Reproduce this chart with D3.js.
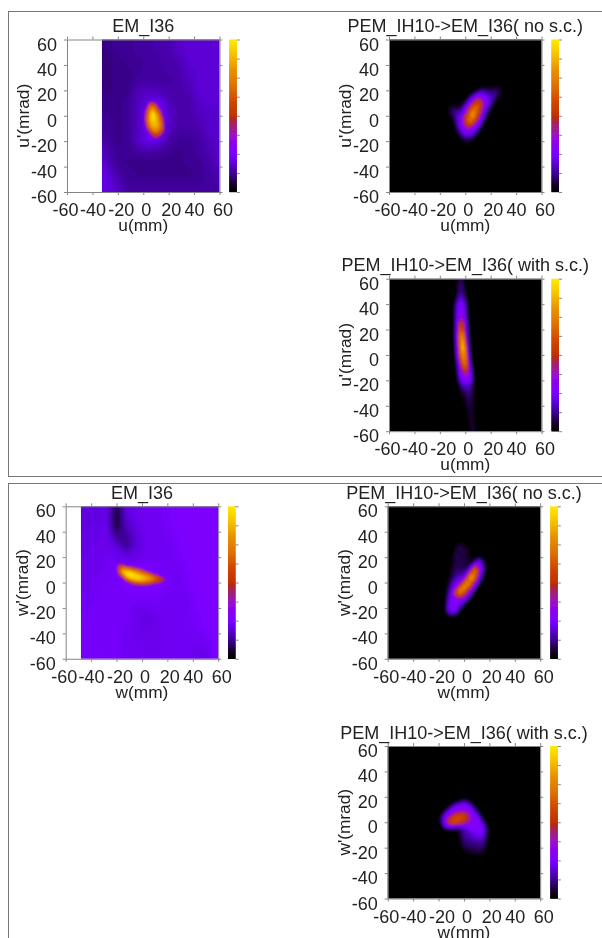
<!DOCTYPE html>
<html><head><meta charset="utf-8">
<script src="https://cdn.jsdelivr.net/npm/d3@7/dist/d3.min.js"></script>
<style>html,body{margin:0;padding:0;background:#fff;overflow:hidden}svg{display:block}</style>
</head><body><svg id="c" width="602" height="938"></svg>
<script>
const ticks=[-60,-40,-20,0,20,40,60];
const barStops=[0,6,12.5,20,25,32,37,43,48,50,60,70,80,90,100];
const barColors=["#000000","#1a0030","#3c0090","#6000e0","#7a00ff","#8c00f0","#9a10d0","#a02080","#b02830","#c03000","#d04800","#e07000","#e89000","#f5c000","#ffea00"];

const emUBack=[
[12,12,13,13,14,14,15,15,18,19,19,19,19],
[11,12,13,13,14,14,15,15,18,19,19,19,19],
[11,11,12,13,13,14,14,15,16,19,19,19,19],
[11,11,12,12,13,14,14,15,15,18,19,19,19],
[11,11,12,12,14,14,14,14,15,17,19,19,19],
[12,11,12,12,16,17,16,15,15,16,19,19,19],
[12,12,12,13,17,20,21,16,15,15,18,19,19],
[13,12,12,13,17,24,26,18,15,15,17,18,18],
[14,13,12,13,17,24,26,18,15,15,16,18,18],
[14,13,12,13,17,23,24,17,14,14,15,18,18],
[16,14,12,13,18,21,20,15,13,13,14,17,18],
[19,15,13,13,14,15,14,13,12,13,14,16,18],
[20,16,13,12,12,12,12,12,12,13,13,15,18],
[20,19,14,13,12,12,12,12,12,12,13,14,16],
[20,20,16,13,13,13,13,13,13,13,13,14,15],
[20,20,18,14,14,14,14,14,14,14,14,14,14]];
const emUCore=[
[0,0,0,0,0,0,0,0],
[0,0,48,56,40,0,0,0],
[0,20,66,70,60,20,0,0],
[0,40,72,84,70,50,0,0],
[0,50,78,96,80,64,25,0],
[0,56,82,100,88,70,42,0],
[0,58,82,96,90,74,52,0],
[0,52,80,90,90,78,58,0],
[0,40,74,86,88,78,60,0],
[0,25,60,78,80,74,58,20],
[0,0,42,62,68,62,48,0],
[0,0,20,46,54,46,20,0],
[0,0,0,20,34,20,0,0],
[0,0,0,0,0,0,0,0]];
const noScU=[
[0,0,0,0,0,0,0,0,0,0,0,0,0,0,0,0],
[0,0,0,0,0,0,0,0,0,6,8,7,6,8,6,0],
[0,0,0,0,0,0,0,4,14,20,18,14,12,12,6,0],
[0,0,0,0,0,0,6,20,28,30,25,20,16,10,2,0],
[0,0,0,0,0,4,18,34,50,50,30,24,14,4,0,0],
[0,0,2,0,4,14,28,52,62,56,32,22,8,0,0,0],
[0,6,8,6,10,24,46,66,68,52,28,14,2,0,0,0],
[0,6,12,14,18,30,58,78,66,48,22,8,0,0,0,0],
[0,2,10,18,24,46,66,80,58,36,16,2,0,0,0,0],
[0,0,6,18,26,52,70,68,50,28,8,0,0,0,0,0],
[0,0,2,16,26,50,62,54,34,18,2,0,0,0,0,0],
[0,0,0,12,26,36,46,34,24,10,0,0,0,0,0,0],
[0,0,0,6,20,28,28,24,14,2,0,0,0,0,0,0],
[0,0,0,2,12,20,20,14,6,0,0,0,0,0,0,0],
[0,0,0,0,4,10,10,6,0,0,0,0,0,0,0,0],
[0,0,0,0,0,4,4,0,0,0,0,0,0,0,0,0],
[0,0,0,0,0,0,0,0,0,0,0,0,0,0,0,0]];
const withScU=[
[0,0,4,8,6,0,0,0,0,0,0],
[0,0,5,10,8,2,0,0,0,0,0],
[0,0,6,12,10,3,0,0,0,0,0],
[0,2,10,18,16,8,0,0,0,0,0],
[0,8,20,26,26,16,2,0,0,0,0],
[0,10,22,28,28,18,2,0,0,0,0],
[0,10,24,32,32,22,4,0,0,0,0],
[0,10,30,52,50,28,8,0,0,0,0],
[0,10,30,62,58,32,10,0,0,0,0],
[0,10,32,70,76,42,12,0,0,0,0],
[0,8,32,68,86,54,18,0,0,0,0],
[0,6,30,64,90,66,24,4,0,0,0],
[0,4,26,58,78,74,30,6,0,0,0],
[0,2,18,44,68,72,40,10,0,0,0],
[0,0,12,30,52,64,46,18,4,0,0],
[0,0,8,26,34,40,38,24,8,0,0],
[0,0,4,18,26,28,28,24,10,0,0],
[0,0,0,6,14,14,18,12,6,0,0],
[0,0,0,2,6,8,12,10,6,0,0],
[0,0,0,0,2,4,8,8,5,0,0],
[0,0,0,0,0,2,5,8,4,0,0],
[0,0,0,0,0,0,3,6,4,0,0],
[0,0,0,0,0,0,2,5,5,0,0],
[0,0,0,0,0,0,0,4,6,2,0],
[0,0,0,0,0,0,0,3,6,2,0]];
const emWBack=[
[20,20,20,21,8,20,22,23,23,24,26,26,26,26,26],
[20,20,20,21,6,19,22,23,23,24,26,26,26,26,26],
[20,20,21,22,7,17,21,23,23,24,25,26,26,26,26],
[20,21,21,22,13,13,20,23,23,23,25,26,26,26,26],
[21,21,22,22,20,14,20,23,23,23,24,26,26,26,26],
[21,22,22,23,22,21,21,23,23,23,24,25,26,26,26],
[22,22,22,23,24,24,25,25,24,23,23,25,26,26,26],
[22,22,23,23,24,25,25,26,25,24,23,24,26,26,26],
[22,22,23,24,24,25,25,25,25,24,23,24,26,26,26],
[23,23,23,24,24,24,24,24,24,23,23,23,25,26,26],
[23,23,24,24,24,24,22,22,23,23,23,23,25,26,26],
[23,24,24,24,24,24,22,21,22,23,23,23,24,26,26],
[24,24,24,24,24,23,22,21,22,23,23,23,24,25,26],
[24,24,24,24,24,23,22,22,22,23,23,23,23,24,26],
[24,24,24,24,24,23,23,22,22,23,23,23,22,23,26],
[24,24,24,24,24,23,23,23,23,23,23,23,22,22,26]];
const emWCore=[
[0,0,0,0,0,0,0,0,0,0,0,0,0,0,0,0],
[0,0,45,40,0,0,0,0,0,0,0,0,0,0,0,0],
[0,0,58,66,58,50,40,0,0,0,0,0,0,0,0,0],
[0,0,60,82,80,74,66,60,48,0,0,0,0,0,0,0],
[0,0,55,85,95,92,85,76,68,60,42,0,0,0,0,0],
[0,0,40,72,95,100,96,90,82,74,66,52,38,0,0,0],
[0,0,0,52,78,92,95,95,92,86,80,70,60,50,30,0],
[0,0,0,0,55,72,82,86,86,82,76,68,60,52,40,0],
[0,0,0,0,35,48,58,62,65,65,60,52,45,38,0,0],
[0,0,0,0,0,0,35,40,42,40,35,0,0,0,0,0],
[0,0,0,0,0,0,0,0,0,0,0,0,0,0,0,0]];
const noScW=[
[0,0,0,0,0,0,0,0,0,0,0,0,0],
[0,0,0,0,2,4,3,0,0,0,0,0,0],
[0,0,0,0,5,9,6,1,0,0,0,0,0],
[0,0,0,0,7,6,9,3,0,0,0,0,0],
[0,0,0,2,8,8,6,5,1,0,0,0,0],
[0,0,0,3,8,7,8,5,3,6,16,6,0],
[0,0,0,3,8,9,7,6,8,24,28,12,0],
[0,0,0,4,9,8,8,9,28,54,36,16,0],
[0,0,0,6,10,10,12,20,52,70,38,14,0],
[0,0,0,8,12,14,18,40,76,66,30,8,0],
[0,0,2,10,18,22,34,66,82,54,22,2,0],
[0,0,4,16,22,34,60,76,64,36,10,0,0],
[0,0,6,20,30,56,78,70,46,20,2,0,0],
[0,0,10,24,54,76,70,50,28,6,0,0,0],
[0,0,12,28,58,66,54,34,12,0,0,0,0],
[0,0,16,28,36,40,32,16,4,0,0,0,0],
[0,0,20,28,30,28,18,6,0,0,0,0,0],
[0,0,22,28,26,18,6,0,0,0,0,0,0],
[0,0,22,28,22,10,0,0,0,0,0,0,0],
[0,0,14,20,12,0,0,0,0,0,0,0,0],
[0,0,0,0,0,0,0,0,0,0,0,0,0]];
const withScW=[
[0,0,0,0,0,0,0,0,0,0,0,0,0,0,0],
[0,0,0,0,0,0,2,4,2,0,0,0,0,0,0],
[0,0,0,0,2,10,16,20,16,6,0,0,0,0,0],
[0,0,0,6,18,26,28,30,28,18,6,0,0,0,0],
[0,0,6,20,28,32,34,34,32,26,14,2,0,0,0],
[0,4,20,28,42,52,56,54,44,30,26,12,0,0,0],
[0,8,26,46,58,62,60,56,48,32,28,22,4,0,0],
[0,8,26,50,60,58,52,48,38,32,30,26,14,0,0],
[0,2,18,30,30,26,24,24,26,28,28,28,24,4,0],
[0,0,2,4,4,4,8,16,20,24,26,26,24,8,0],
[0,0,0,0,0,0,6,14,16,20,24,24,22,6,0],
[0,0,0,0,0,0,4,12,14,16,18,20,18,6,0],
[0,0,0,0,0,0,3,10,12,12,14,14,14,4,0],
[0,0,0,0,0,0,2,8,10,10,10,12,10,3,0],
[0,0,0,0,0,0,0,4,7,8,8,9,8,2,0],
[0,0,0,0,0,0,0,0,3,4,4,5,4,0,0],
[0,0,0,0,0,0,0,0,0,0,0,0,0,0,0]];

const panels=[
 {title:"EM_I36",xl:"u(mm)",yl:"u'(mrad)",left:67,top:39.5,barX:229.3,xMin:-32.5,layers:[
   {rows:emUBack,x0:-36,y0:60,dx:8,dy:8,t0:.5},{rows:emUCore,x0:0,y0:12,dx:2.5,dy:2.5,t0:30}]},
 {title:"PEM_IH10->EM_I36( no s.c.)",xl:"u(mm)",yl:"u'(mrad)",left:389,top:39.5,barX:551.5,xMin:-60,layers:[
   {rows:noScU,x0:-15,y0:24,dx:3,dy:3,t0:.5}]},
 {title:"PEM_IH10->EM_I36( with s.c.)",xl:"u(mm)",yl:"u'(mrad)",left:389,top:278.7,barX:551.5,xMin:-60,layers:[
   {rows:withScU,x0:-10,y0:60,dx:2,dy:5,t0:.5}]},
 {title:"EM_I36",xl:"w(mm)",yl:"w'(mrad)",left:65.7,top:506.3,barX:228,xMin:-48,layers:[
   {rows:emWBack,x0:-52,y0:60,dx:8,dy:8,t0:.5},{rows:emWCore,x0:-24,y0:16,dx:3,dy:2,t0:30}]},
 {title:"PEM_IH10->EM_I36( no s.c.)",xl:"w(mm)",yl:"w'(mrad)",left:387.7,top:506.3,barX:550.3,xMin:-60,layers:[
   {rows:noScW,x0:-18,y0:33,dx:3,dy:3,t0:.5}]},
 {title:"PEM_IH10->EM_I36( with s.c.)",xl:"w(mm)",yl:"w'(mrad)",left:387.7,top:746,barX:550.3,xMin:-60,layers:[
   {rows:withScW,x0:-21,y0:21,dx:3,dy:3,t0:.5}]}
];
const xNudge=[-2,0,3,2.5,2,0,3];
const W=152.5,H=152.5,barW=7.5;
const FONT='"Liberation Sans",Arial,sans-serif',GREY="#858585",INK="#222";
const color=d3.scaleLinear().domain(barStops).range(barColors).clamp(true);

const svg=d3.select("#c");
const defs=svg.append("defs");
const full=(id,s)=>defs.append("filter").attr("id",id).attr("filterUnits","userSpaceOnUse")
  .attr("x",0).attr("y",0).attr("width",602).attr("height",938)
  .append("feGaussianBlur").attr("stdDeviation",s);
full("soft",.45);full("heat",.8);
const root=svg.append("g").attr("filter","url(#soft)");
root.append("rect").attr("width",602).attr("height",938).attr("fill","#fff");

[[8.5,11.5,610,465],[8.5,483.5,610,470]].forEach(b=>root.append("rect")
  .attr("x",b[0]).attr("y",b[1]).attr("width",b[2]).attr("height",b[3])
  .attr("fill","none").attr("stroke","#777"));

panels.forEach((p,i)=>{
  const x=d3.scaleLinear().domain([-60,60]).range([p.left,p.left+W]);
  const y=d3.scaleLinear().domain([-60,60]).range([p.top+H,p.top]);
  const clip="clip"+i;
  defs.append("clipPath").attr("id",clip).append("rect")
    .attr("x",x(p.xMin)).attr("y",p.top).attr("width",x(60)-x(p.xMin)).attr("height",H);
  const g=root.append("g").attr("clip-path",`url(#${clip})`);
  const hg=g.append("g").attr("filter","url(#heat)");
  hg.append("rect").attr("x",x(p.xMin)-6).attr("y",p.top-6).attr("width",x(60)-x(p.xMin)+12).attr("height",H+12).attr("fill",color(0));
  p.layers.forEach(l=>{
    const m=l.rows.length,n=l.rows[0].length;
    const gx=d3.scaleLinear().domain([0,n]).range([x(l.x0-l.dx/2),x(l.x0+(n-.5)*l.dx)]);
    const gy=d3.scaleLinear().domain([0,m]).range([y(l.y0+l.dy/2),y(l.y0-(m-.5)*l.dy)]);
    const path=d3.geoPath(d3.geoTransform({point(a,b){this.stream.point(gx(a),gy(b));}}));
    const levels=d3.range(l.t0,100,1);
    const bands=d3.contours().size([n,m]).smooth(true).thresholds(levels)(l.rows.flat());
    hg.append("g").selectAll("path").data(bands).join("path")
      .attr("d",path).attr("fill",d=>color(d.value+.5)).attr("stroke",d=>color(d.value+.5)).attr("stroke-width",.3);
  });

  const style=a=>{a.selectAll(".domain,.tick line").attr("stroke",GREY);
    a.selectAll("text").attr("font-family",FONT).attr("font-size",18).attr("fill",INK);};
  const base=(ax)=>ax.tickValues(ticks).tickSizeInner(3).tickSizeOuter(0);
  const fmt=d=>String(d);
  const bottom=root.append("g").attr("transform",`translate(0,${p.top+H})`).call(base(d3.axisBottom(x)).tickFormat(fmt));
  style(bottom);
  bottom.selectAll("text").attr("dx",(d,k)=>xNudge[k]).attr("dy",0).attr("y",24);
  root.append("g").attr("transform",`translate(0,${p.top})`).call(base(d3.axisTop(x)).tickFormat("")).call(style);
  const left=root.append("g").attr("transform",`translate(${p.left},0)`).call(base(d3.axisLeft(y)).tickPadding(7).tickFormat(fmt));
  style(left);
  left.selectAll("text").attr("dy",10.5);
  root.append("g").attr("transform",`translate(${p.left+W},0)`).call(base(d3.axisRight(y)).tickFormat("")).call(style);

  const b=d3.scaleLinear().domain([0,100]).range([p.top+H,p.top]);
  root.append("g").selectAll("rect").data(d3.range(0,100,.5)).join("rect")
    .attr("x",p.barX).attr("width",barW).attr("y",d=>b(d+.5)).attr("height",d=>b(d)-b(d+.5)+(d>0?1:0)).attr("fill",d=>color(d));
  const by=root.append("g").attr("transform",`translate(${p.barX+barW},0)`)
    .call(d3.axisRight(b).tickValues(d3.range(0,100.1,12.5)).tickSizeInner(3).tickSizeOuter(0).tickFormat(""));
  by.select(".domain").remove();by.selectAll("line").attr("stroke",GREY);

  root.append("text").attr("x",x(0)).attr("y",p.top-7.5).attr("text-anchor","middle")
    .attr("font-family",FONT).attr("font-size",18).attr("fill",INK).text(p.title);
  root.append("text").attr("x",x(0)).attr("y",p.top+H+39).attr("text-anchor","middle")
    .attr("font-family",FONT).attr("font-size",17.3).attr("fill",INK).text(p.xl);
  root.append("text").attr("transform",`translate(${p.left-38},${y(0)}) rotate(-90)`).attr("text-anchor","middle")
    .attr("font-family",FONT).attr("font-size",17.3).attr("fill",INK).text(p.yl);
});
</script></body></html>
